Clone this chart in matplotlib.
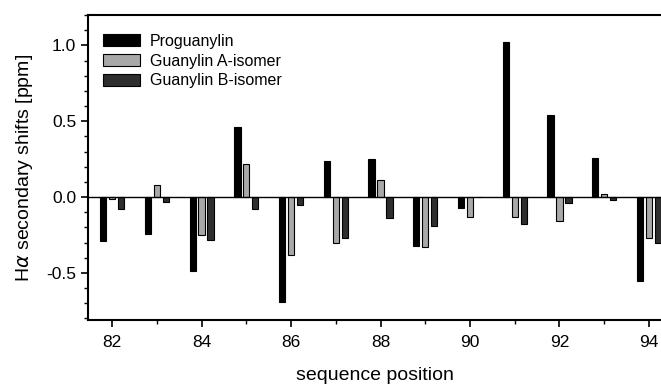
import matplotlib
matplotlib.use("Agg")
import matplotlib.pyplot as plt
import numpy as np
from matplotlib.ticker import MultipleLocator

plt.rcParams['font.family'] = ['Liberation Sans', 'DejaVu Sans']

positions = [82, 83, 84, 85, 86, 87, 88, 89, 90, 91, 92, 93, 94]
proguanylin = [-0.29, -0.24, -0.49, 0.46, -0.69, 0.24, 0.25, -0.32, -0.07, 1.02, 0.54, 0.26, -0.55]
guanylin_a = [-0.01, 0.08, -0.25, 0.22, -0.38, -0.30, 0.11, -0.33, -0.13, -0.13, -0.16, 0.02, -0.27]
guanylin_b = [-0.08, -0.03, -0.28, -0.08, -0.05, -0.27, -0.14, -0.19, 0.0, -0.18, -0.04, -0.02, -0.30]
series_names = ["Proguanylin", "Guanylin A-isomer", "Guanylin B-isomer"]
colors = ["#000000", "#a8a8a8", "#2e2e2e"]

fig = plt.figure(figsize=(6.61, 3.87), dpi=100)
ax = fig.add_axes([88/661, 1-320/387, 1-88/661, (320-15)/387])

x = np.array(positions, dtype=float)
w = 0.14
for off, vals, name, c in zip([-0.2, 0.0, 0.2], [proguanylin, guanylin_a, guanylin_b], series_names, colors):
    ax.bar(x + off, vals, width=w, color=c, edgecolor="black", linewidth=0.8, label=name)

ax.axhline(0, color="black", linewidth=1.0)
ax.set_xlim(81.46, 94.27)
ax.set_ylim(-0.81, 1.2)
ax.xaxis.set_major_locator(MultipleLocator(2))
ax.xaxis.set_minor_locator(MultipleLocator(1))
ax.yaxis.set_major_locator(MultipleLocator(0.5))
ax.yaxis.set_minor_locator(MultipleLocator(0.1))
ax.set_yticks([-0.5, 0.0, 0.5, 1.0])
ax.set_yticklabels(["-0.5", "0.0", "0.5", "1.0"])
ax.tick_params(axis="both", which="major", direction="out", length=5, width=1.2, labelsize=12.5)
ax.tick_params(axis="x", which="major", pad=6)
ax.tick_params(axis="both", which="minor", direction="out", length=3, width=1.0)
ax.spines["right"].set_visible(False)
for s in ["left", "bottom", "top"]:
    ax.spines[s].set_linewidth(1.5)

ax.set_xlabel("sequence position", fontsize=14, labelpad=12)
ax.set_ylabel(r"H$\alpha$ secondary shifts [ppm]", fontsize=14, labelpad=8)

ax.legend(loc="upper left", frameon=False, fontsize=11.5, handlelength=2.3, handleheight=0.8,
          handletextpad=0.6, labelspacing=0.3, bbox_to_anchor=(0.01, 0.97), borderaxespad=0.2)

fig.savefig("out.png", dpi=100)
